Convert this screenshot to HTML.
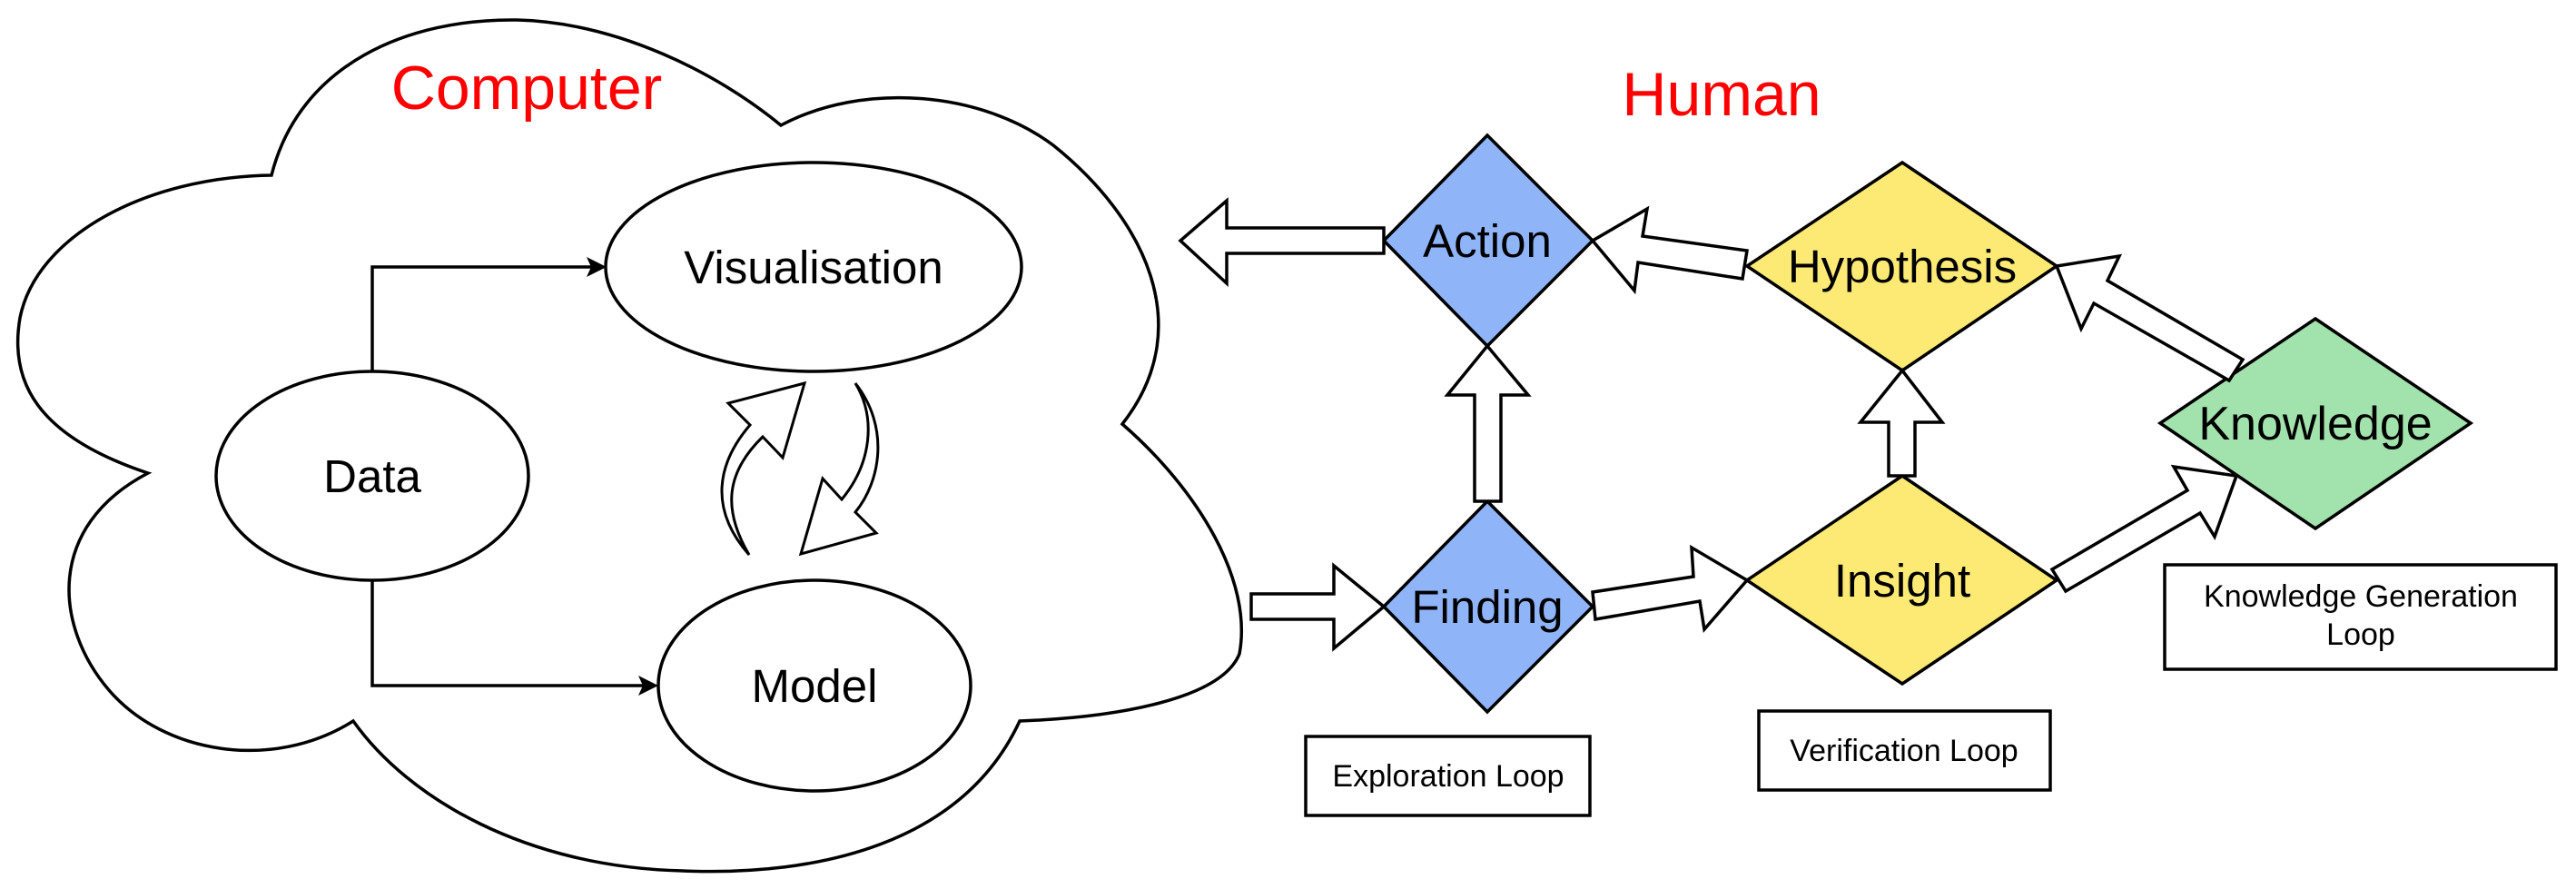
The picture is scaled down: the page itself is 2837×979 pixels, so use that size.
<!DOCTYPE html>
<html><head><meta charset="utf-8"><style>
html,body{margin:0;padding:0;background:#fff;}
svg{display:block;}
text{font-family:"Liberation Sans",Arial,sans-serif;}
</style></head><body>
<svg width="2837" height="979" viewBox="0 0 2837 979" xmlns="http://www.w3.org/2000/svg">
<g fill="none" stroke="#000" stroke-width="3.5" stroke-linejoin="miter">
<path fill="#fff" d="M299,193 C330,70 450,20 570,22 C680,25 790,80 860,138
C950,90 1080,100 1160,160 C1260,240 1320,360 1236,467
C1320,540 1380,640 1365,720 C1345,770 1230,790 1123,794
C1060,930 900,965 752,959 C580,955 450,880 389,794
C300,850 180,830 120,760 C60,690 50,580 163,521
C40,480 10,420 22,350 C40,260 160,195 299,193 Z"/>
<ellipse cx="896" cy="294" rx="229" ry="115" fill="#fff"/>
<ellipse cx="410" cy="524" rx="172" ry="115" fill="#fff"/>
<ellipse cx="897" cy="755" rx="172" ry="116" fill="#fff"/>
<path d="M410,409 V294 H655"/>
<path d="M410,639 V755 H712"/>
</g>
<polygon points="668,294 646,283 651,294 646,305" fill="#000"/>
<polygon points="725,755 703,744 708,755 703,766" fill="#000"/>
<g fill="#fff" stroke="#000" stroke-width="3">
<path d="M886,422 L802,444 L826,468 C790,510 780,560 825,611 C795,560 800,520 840,481 L862,504 Z"/>
<path d="M942,422 C980,470 970,530 942,564 L965,587 L882,610 L906,527 L927,550 C960,510 965,460 942,422 Z"/>
</g>
<g stroke="#000" stroke-width="3.5">
<polygon points="1638,149 1754,265 1638,381 1524,265" fill="#8fb4f8"/>
<polygon points="1638,552 1754,668 1638,784 1524,668" fill="#8fb4f8"/>
<polygon points="2095,179 2265,293 2095,408 1924,293" fill="#fdea75"/>
<polygon points="2095,524 2265,639 2095,753 1924,639" fill="#fdea75"/>
<polygon points="2550,351 2721,466 2550,582 2379,466" fill="#a2e2ac"/>
</g>
<g fill="#fff" stroke="#000" stroke-width="3.5">
<polygon points="1524,251 1351,251 1351,221 1300,265 1351,312 1351,279 1524,279"/>
<polygon points="1924,276 1809,260 1814,230 1754,265 1800,320 1804,289 1919,307"/>
<polygon points="2470,396 2321,309 2334,282 2265,293 2292,362 2306,334 2455,419"/>
<polygon points="1624,552 1624,435 1594,435 1638,381 1683,435 1653,435 1653,552"/>
<polygon points="2080,524 2080,465 2049,465 2095,408 2139,465 2109,465 2109,524"/>
<polygon points="1378,654 1469,654 1469,623 1524,668 1469,714 1469,682 1378,682"/>
<polygon points="1754,652 1865,635 1863,603 1924,639 1877,693 1872,662 1757,682"/>
<polygon points="2260,627 2409,540 2394,514 2463,524 2439,591 2423,565 2275,651"/>
</g>
<g fill="#fff" stroke="#000" stroke-width="3.5">
<rect x="1438" y="811" width="313" height="87"/>
<rect x="1937" y="783" width="321" height="87"/>
<rect x="2384" y="622" width="431" height="115"/>
</g>
<g text-anchor="middle">
<text x="580" y="120" font-size="68" fill="#ff0000">Computer</text>
<text x="1896" y="127" font-size="68" fill="#ff0000">Human</text>
<text x="896" y="312" font-size="51">Visualisation</text>
<text x="410" y="542" font-size="51">Data</text>
<text x="897" y="773" font-size="51">Model</text>
<text x="1638" y="283" font-size="51">Action</text>
<text x="1638" y="686" font-size="51">Finding</text>
<text x="2095" y="311" font-size="51">Hypothesis</text>
<text x="2095" y="657" font-size="51">Insight</text>
<text x="2550" y="484" font-size="52">Knowledge</text>
<text x="1595" y="866" font-size="34">Exploration Loop</text>
<text x="2097" y="838" font-size="34">Verification Loop</text>
<text x="2600" y="668" font-size="34">Knowledge Generation</text>
<text x="2600" y="710" font-size="34">Loop</text>
</g>
</svg>
</body></html>
